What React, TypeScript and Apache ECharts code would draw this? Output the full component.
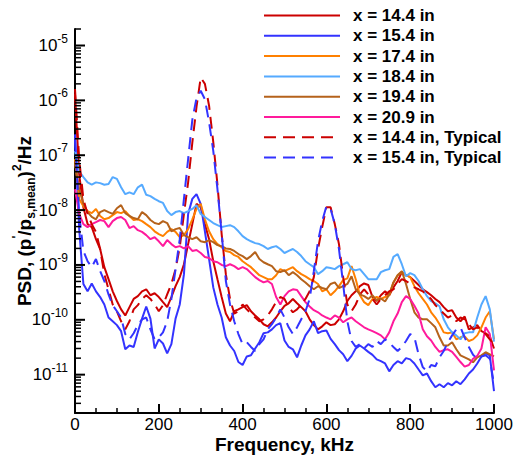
import React, { useEffect, useRef } from "react";
import * as echarts from "echarts";

const FONT = "'Liberation Sans', Arial, Helvetica, sans-serif";

const freq = [
  0, 10, 20, 30, 40, 50, 60, 70, 80, 90,
  100, 110, 120, 130, 140, 150, 160, 170, 180, 190,
  200, 210, 220, 230, 240, 250, 260, 270, 280, 290,
  300, 310, 320, 330, 340, 350, 360, 370, 380, 390,
  400, 410, 420, 430, 440, 450, 460, 470, 480, 490,
  500, 510, 520, 530, 540, 550, 560, 570, 580, 590,
  600, 610, 620, 630, 640, 650, 660, 670, 680, 690,
  700, 710, 720, 730, 740, 750, 760, 770, 780, 790,
  800, 810, 820, 830, 840, 850, 860, 870, 880, 890,
  900, 910, 920, 930, 940, 950, 960, 970, 980, 990,
  1000,
];

const x144 = [
  1.3e-6, 4.5e-8, 1.13e-8, 5.55e-9, 4.9e-9, 2.95e-9, 1.95e-9, 9.1e-10, 5.5e-10, 3.3e-10,
  2.2e-10, 1.55e-10, 1.2e-10, 1.7e-10, 2.4e-10, 2.7e-10, 3.3e-10, 3.6e-10, 2.8e-10, 3.05e-10,
  2.6e-10, 2.1e-10, 1.7e-10, 2.6e-10, 4.1e-10, 6.0e-10, 1.03e-9, 2.4e-9, 5.55e-9, 1.3e-8,
  1.13e-8, 5.55e-9, 2.95e-9, 1.17e-9, 5.5e-10, 2.6e-10, 1.3e-10, 9.4e-11, 1.43e-10, 1.55e-10,
  1.7e-10, 1.85e-10, 1.43e-10, 1.2e-10, 1.02e-10, 8.3e-11, 7.6e-11, 9.0e-11, 1.1e-10, 1.43e-10,
  1.8e-10, 2.0e-10, 2.4e-10, 2.0e-10, 1.7e-10, 1.43e-10, 1.02e-10, 8.0e-11, 6.7e-11, 7.6e-11,
  9.0e-11, 8.0e-11, 8.3e-11, 1.02e-10, 1.43e-10, 2.2e-10, 2.8e-10, 3.3e-10, 4.1e-10, 4.6e-10,
  4.3e-10, 2.6e-10, 2.2e-10, 2.8e-10, 3.3e-10, 2.8e-10, 3.9e-10, 5.1e-10, 7.4e-10, 6.5e-10,
  6.0e-10, 5.1e-10, 4.3e-10, 3.6e-10, 3.2e-10, 2.8e-10, 2.4e-10, 2.1e-10, 1.7e-10, 1.43e-10,
  1.5e-10, 1.1e-10, 9.4e-11, 1.15e-10, 6.7e-11, 7.3e-11, 8.0e-11, 6.2e-11, 5.7e-11, 5.0e-11,
  3.0e-11,
];

const x154 = [
  2.4e-7, 4.5e-9, 4.5e-10, 3.3e-10, 4.6e-10, 3.3e-10, 2.6e-10, 1.9e-10, 1.1e-10, 9.4e-11,
  8.0e-11, 6.2e-11, 2.9e-11, 3.4e-11, 3.2e-11, 6.0e-11, 1.05e-10, 1.75e-10, 1.05e-10, 3.0e-11,
  4.4e-11, 3.7e-11, 2.45e-11, 3.6e-11, 1.05e-10, 1.9e-10, 6.8e-10, 8.5e-9, 1.6e-8, 1.95e-8,
  1.3e-8, 4.1e-9, 1.28e-9, 3.9e-10, 1.9e-10, 1.1e-10, 4.8e-11, 3.4e-11, 2.7e-11, 1.7e-11,
  1.5e-11, 2.15e-11, 2.25e-11, 3.0e-11, 3.9e-11, 5.7e-11, 5.9e-11, 6.7e-11, 8.0e-11, 8.7e-11,
  4.2e-11, 3.2e-11, 2.9e-11, 2.07e-11, 3.4e-11, 5.2e-11, 6.7e-11, 9.4e-11, 5.7e-11, 6.2e-11,
  6.4e-11, 4.5e-11, 3.6e-11, 2.8e-11, 2.35e-11, 1.76e-11, 2.2e-11, 3.0e-11, 3.4e-11, 3.0e-11,
  2.6e-11, 2.3e-11, 1.9e-11, 1.76e-11, 1.6e-11, 1.15e-11, 1.5e-11, 1.76e-11, 1.6e-11, 2.0e-11,
  1.9e-11, 1.6e-11, 1.24e-11, 9.7e-12, 1.05e-11, 7.6e-12, 5.9e-12, 6.7e-12, 5.9e-12, 7.0e-12,
  6.4e-12, 7.6e-12, 6.7e-12, 8.2e-12, 1.05e-11, 1.24e-11, 1.6e-11, 2.15e-11, 2.45e-11, 2.25e-11,
  5.0e-12,
];

const x174 = [
  8.5e-8, 1.6e-8, 1.18e-8, 9.6e-9, 8.8e-9, 1.05e-8, 7.8e-9, 6.8e-9, 7.15e-9, 8.1e-9,
  9.2e-9, 8.8e-9, 9.6e-9, 7.8e-9, 6.6e-9, 6.8e-9, 6.3e-9, 5.55e-9, 4.9e-9, 4.1e-9,
  3.65e-9, 3.35e-9, 4.0e-9, 4.5e-9, 4.0e-9, 3.2e-9, 3.5e-9, 4.5e-9, 6.8e-9, 1.05e-8,
  1.3e-8, 6.8e-9, 4.1e-9, 2.95e-9, 2.4e-9, 2.1e-9, 1.8e-9, 1.72e-9, 1.51e-9, 1.4e-9,
  1.17e-9, 1.03e-9, 9.1e-10, 7.7e-10, 6.5e-10, 6.0e-10, 5.5e-10, 5.5e-10, 6.5e-10, 8.4e-10,
  7.7e-10, 8.4e-10, 9.1e-10, 7.7e-10, 6.8e-10, 6.2e-10, 5.5e-10, 5.1e-10, 4.5e-10, 3.3e-10,
  3.6e-10, 2.8e-10, 3.3e-10, 4.1e-10, 5.3e-10, 5.7e-10, 9.5e-10, 5.5e-10, 2.8e-10, 2.1e-10,
  1.85e-10, 2.4e-10, 2.6e-10, 2.4e-10, 2.6e-10, 2.8e-10, 4.8e-10, 6.5e-10, 7.4e-10, 6.5e-10,
  6.0e-10, 4.1e-10, 3.05e-10, 2.4e-10, 1.9e-10, 1.37e-10, 1.1e-10, 8.3e-11, 5.9e-11, 5.7e-11,
  5.9e-11, 4.4e-11, 4.8e-11, 5.0e-11, 4.1e-11, 4.4e-11, 5.2e-11, 7.3e-11, 1.1e-10, 1.43e-10,
  4.4e-11,
];

const x184 = [
  1.2e-7, 5.1e-8, 4.0e-8, 3.2e-8, 2.9e-8, 3.2e-8, 3.1e-8, 2.9e-8, 3.0e-8, 4.0e-8,
  3.7e-8, 2.6e-8, 1.95e-8, 2.1e-8, 1.95e-8, 2.6e-8, 2.9e-8, 1.9e-8, 1.8e-8, 1.6e-8,
  1.45e-8, 1.35e-8, 9.6e-9, 8.1e-9, 9.2e-9, 9.6e-9, 8.8e-9, 9.6e-9, 1.05e-8, 1.23e-8,
  8.5e-9, 7.5e-9, 6.6e-9, 5.8e-9, 5.3e-9, 4.9e-9, 5.1e-9, 5.3e-9, 4.9e-9, 4.1e-9,
  3.35e-9, 2.95e-9, 2.7e-9, 2.5e-9, 2.4e-9, 2.2e-9, 1.95e-9, 2.1e-9, 2.2e-9, 1.95e-9,
  1.65e-9, 1.8e-9, 1.95e-9, 1.72e-9, 1.45e-9, 1.17e-9, 1.03e-9, 9.1e-10, 6.8e-10, 7.7e-10,
  9.1e-10, 8.8e-10, 8.4e-10, 9.5e-10, 1.03e-9, 1.12e-9, 8.4e-10, 8.0e-10, 8.4e-10, 6.8e-10,
  5.5e-10, 5.5e-10, 5.5e-10, 7.4e-10, 8.0e-10, 8.4e-10, 1.4e-9, 1.58e-9, 1.03e-9, 6.2e-10,
  7.1e-10, 6.5e-10, 5.1e-10, 3.6e-10, 2.7e-10, 2.2e-10, 2.0e-10, 1.77e-10, 1.02e-10, 7.3e-11,
  5.9e-11, 5.2e-11, 4.4e-11, 5.7e-11, 5.9e-11, 5.9e-11, 1.1e-10, 1.9e-10, 2.7e-10, 1.55e-10,
  4.0e-11,
];

const x194 = [
  6.9e-8, 2.4e-8, 1.3e-8, 9.2e-9, 7.5e-9, 6.8e-9, 9.2e-9, 1.0e-8, 9.2e-9, 8.5e-9,
  1.08e-8, 1.23e-8, 8.8e-9, 7.8e-9, 7.15e-9, 6.8e-9, 9.2e-9, 8.1e-9, 6.6e-9, 5.8e-9,
  5.55e-9, 6.3e-9, 5.8e-9, 4.1e-9, 4.5e-9, 4.7e-9, 3.5e-9, 3.2e-9, 2.95e-9, 3.2e-9,
  2.7e-9, 2.6e-9, 2.84e-9, 2.6e-9, 2.3e-9, 2.2e-9, 2.0e-9, 1.95e-9, 1.8e-9, 1.58e-9,
  1.45e-9, 1.28e-9, 1.45e-9, 1.72e-9, 1.28e-9, 1.12e-9, 1.03e-9, 9.5e-10, 7.7e-10, 7.4e-10,
  8.0e-10, 6.5e-10, 7.4e-10, 6.5e-10, 5.5e-10, 4.8e-10, 4.1e-10, 3.6e-10, 4.1e-10, 3.8e-10,
  3.6e-10, 4.5e-10, 4.8e-10, 3.8e-10, 4.1e-10, 4.5e-10, 6.2e-10, 3.6e-10, 2.9e-10, 2.7e-10,
  2.4e-10, 2.8e-10, 2.25e-10, 2.45e-10, 2.15e-10, 2.9e-10, 4.8e-10, 6.5e-10, 7.7e-10, 4.5e-10,
  2.4e-10, 1.37e-10, 1.1e-10, 1.02e-10, 1.02e-10, 8.7e-11, 7.3e-11, 4.8e-11, 3.4e-11, 3.4e-11,
  3.9e-11, 2.9e-11, 2.25e-11, 2.07e-11, 1.9e-11, 1.68e-11, 2.07e-11, 2.25e-11, 2.56e-11, 2.35e-11,
  2.15e-11,
];

const x209 = [
  2.4e-8, 8.5e-9, 5.55e-9, 4.9e-9, 5.55e-9, 6.05e-9, 6.6e-9, 6.3e-9, 4.9e-9, 6.3e-9,
  7.15e-9, 7.5e-9, 6.6e-9, 4.7e-9, 5.1e-9, 4.3e-9, 4.0e-9, 3.5e-9, 2.95e-9, 3.2e-9,
  2.7e-9, 2.2e-9, 2.84e-9, 2.4e-9, 2.1e-9, 2.2e-9, 2.0e-9, 2.2e-9, 1.8e-9, 1.87e-9,
  1.65e-9, 1.4e-9, 1.34e-9, 1.17e-9, 1.12e-9, 1.0e-9, 9.5e-10, 1.03e-9, 9.5e-10, 8.4e-10,
  9.1e-10, 8.4e-10, 7.1e-10, 6.0e-10, 5.3e-10, 4.8e-10, 5.1e-10, 4.5e-10, 2.6e-10, 1.9e-10,
  2.7e-10, 3.3e-10, 3.6e-10, 3.5e-10, 2.7e-10, 2.1e-10, 1.75e-10, 1.5e-10, 1.37e-10, 1.2e-10,
  1.1e-10, 1.02e-10, 1.2e-10, 1.1e-10, 9.0e-11, 1.02e-10, 1.1e-10, 9.4e-11, 8.3e-11, 7.3e-11,
  6.7e-11, 6.2e-11, 5.7e-11, 5.2e-11, 4.4e-11, 5.9e-11, 9.4e-11, 1.3e-10, 2.1e-10, 2.7e-10,
  2.4e-10, 1.8e-10, 1.3e-10, 6.7e-11, 5.0e-11, 4.2e-11, 3.2e-11, 2.6e-11, 2.8e-11, 2.9e-11,
  2.6e-11, 2.1e-11, 1.7e-11, 1.4e-11, 1.5e-11, 1.95e-11, 2.2e-11, 3.0e-11, 7.3e-11, 5.5e-11,
  1.2e-11,
];

const x144Typical = [
  1.6e-6, 8.5e-8, 1.6e-8, 8.5e-9, 5.55e-9, 4.0e-9, 1.95e-9, 6.8e-10, 3.6e-10, 1.9e-10,
  1.43e-10, 9.4e-11, 6.7e-11, 9.4e-11, 1.55e-10, 1.85e-10, 2.4e-10, 2.8e-10, 2.4e-10, 1.9e-10,
  1.43e-10, 1.85e-10, 2.9e-10, 4.5e-10, 8.4e-10, 2.1e-9, 8.5e-9, 3.2e-8, 1.7e-7, 7.6e-7,
  2.6e-6, 2.0e-6, 8.0e-7, 1.74e-7, 2.9e-8, 3.65e-9, 6.8e-10, 2.4e-10, 1.3e-10, 1.43e-10,
  1.9e-10, 1.55e-10, 1.3e-10, 1.1e-10, 9.4e-11, 1.02e-10, 1.2e-10, 1.55e-10, 2.1e-10, 2.6e-10,
  2.4e-10, 1.7e-10, 1.37e-10, 1.55e-10, 1.9e-10, 2.4e-10, 3.3e-10, 6.0e-10, 1.95e-9, 4.9e-9,
  1.13e-8, 1.13e-8, 5.55e-9, 2.4e-9, 6.0e-10, 1.9e-10, 1.43e-10, 1.9e-10, 2.9e-10, 3.6e-10,
  2.9e-10, 2.4e-10, 1.9e-10, 2.4e-10, 2.8e-10, 3.3e-10, 3.6e-10, 4.5e-10, 5.5e-10, 5.1e-10,
  4.5e-10, 3.9e-10, 3.6e-10, 3.3e-10, 2.8e-10, 2.4e-10, 1.85e-10, 1.55e-10, 1.3e-10, 1.1e-10,
  1.2e-10, 9.4e-11, 1.1e-10, 1.02e-10, 8.3e-11, 6.7e-11, 7.3e-11, 6.2e-11, 5.5e-11, 4.4e-11,
  3.6e-11,
];

const x154Typical = [
  1.9e-7, 8.5e-9, 1.8e-9, 1.17e-9, 9.1e-10, 1.28e-9, 7.7e-10, 5.1e-10, 2.9e-10, 1.85e-10,
  1.43e-10, 1.1e-10, 5.5e-11, 4.4e-11, 5.7e-11, 8.0e-11, 1.02e-10, 1.1e-10, 6.7e-11, 4.4e-11,
  4.8e-11, 5.9e-11, 9.4e-11, 2.4e-10, 8.4e-10, 2.95e-9, 1.6e-8, 8.5e-8, 4.4e-7, 1.1e-6,
  1.5e-6, 1.05e-6, 4.0e-7, 1.2e-7, 2.4e-8, 3.8e-9, 5.1e-10, 1.9e-10, 9.4e-11, 5.5e-11,
  3.6e-11, 3.9e-11, 3.2e-11, 2.7e-11, 3.6e-11, 4.4e-11, 6.7e-11, 8.3e-11, 1.1e-10, 1.55e-10,
  1.1e-10, 7.3e-11, 5.5e-11, 7.3e-11, 1.02e-10, 1.43e-10, 2.4e-10, 7.7e-10, 2.7e-9, 6.3e-9,
  1.18e-8, 1.05e-8, 5.55e-9, 1.95e-9, 4.5e-10, 9.4e-11, 4.1e-11, 3.2e-11, 3.6e-11, 3.0e-11,
  3.6e-11, 3.2e-11, 4.1e-11, 3.6e-11, 4.4e-11, 3.8e-11, 3.2e-11, 2.7e-11, 3.2e-11, 4.1e-11,
  5.5e-11, 4.8e-11, 2.35e-11, 1.37e-11, 1.15e-11, 1.5e-11, 1.42e-11, 2.07e-11, 2.7e-11, 3.9e-11,
  5.2e-11, 6.7e-11, 7.3e-11, 4.8e-11, 3.2e-11, 2.3e-11, 1.95e-11, 2.15e-11, 2.25e-11, 1.95e-11,
  6.7e-12,
];

const seriesNames = [
  "x = 14.4 in",
  "x = 15.4 in",
  "x = 17.4 in",
  "x = 18.4 in",
  "x = 19.4 in",
  "x = 20.9 in",
  "x = 14.4 in, Typical",
  "x = 15.4 in, Typical",
];
const seriesValues = [x144, x154, x174, x184, x194, x209, x144Typical, x154Typical];
const seriesColors = ["#cc0000", "#3333ff", "#ff8000", "#55aaff", "#b5621b", "#ff1a9c", "#cc0000", "#3333ff"];
const seriesDashed = [false, false, false, false, false, false, true, true];

const xTickLabels = [0, 200, 400, 600, 800, 1000];
const yMin = 2e-12;
const yMax = 2e-5;
const yMajorTicks = [1e-11, 1e-10, 1e-9, 1e-8, 1e-7, 1e-6, 1e-5];
const yDecades = [1e-12, 1e-11, 1e-10, 1e-9, 1e-8, 1e-7, 1e-6, 1e-5];
const yMinorMultipliers = [2, 3, 4, 5, 6, 7, 8, 9];

export default function App() {
  const ref = useRef<HTMLDivElement>(null);

  useEffect(() => {
    document.body.style.margin = "0";
    if (!ref.current) return;
    const chart = echarts.init(ref.current, undefined, { renderer: "svg" });

    const tickData: number[][] = [];
    yMajorTicks.forEach((v) => tickData.push([0, v, 10]));
    yDecades.forEach((d) =>
      yMinorMultipliers.forEach((m) => {
        const v = d * m;
        if (v >= yMin && v <= yMax * 1.0001) tickData.push([0, v, 6]);
      })
    );

    const lineSeries = seriesNames.map((name, i) => ({
      name,
      type: "line",
      data: freq.map((f, k) => [f, seriesValues[i][k]]),
      symbol: "none",
      showSymbol: false,
      color: seriesColors[i],
      lineStyle: {
        color: seriesColors[i],
        width: 2,
        type: seriesDashed[i] ? [12, 7] : "solid",
      },
      z: 3,
    }));

    const option: any = {
      animation: false,
      backgroundColor: "#ffffff",
      textStyle: { fontFamily: FONT },
      grid: {
        left: 75,
        top: 29,
        right: 24,
        bottom: 45,
        outerBoundsMode: "none",
      },
      legend: {
        orient: "vertical",
        left: 263,
        top: 7,
        padding: 0,
        itemWidth: 76,
        itemHeight: 14,
        itemGap: 3.3,
        selectedMode: false,
        data: seriesNames,
        itemStyle: { opacity: 0 },
        textStyle: {
          fontSize: 17,
          fontWeight: "bold",
          color: "#000",
          fontFamily: FONT,
          padding: [0, 0, 0, 8],
        },
      },
      xAxis: {
        type: "value",
        min: 0,
        max: 1000,
        interval: 200,
        name: "Frequency, kHz",
        nameLocation: "middle",
        nameGap: 22,
        nameMoveOverlap: false,
        nameTextStyle: { fontSize: 19, fontWeight: "bold", color: "#000", fontFamily: FONT },
        axisLine: { show: true, onZero: false, lineStyle: { color: "#000", width: 2 } },
        axisTick: { show: true, inside: true, length: 9, lineStyle: { color: "#000", width: 2 } },
        minorTick: { show: true, splitNumber: 4, length: 5, lineStyle: { color: "#000", width: 1.5 } },
        splitLine: { show: false },
        minorSplitLine: { show: false },
        axisLabel: {
          fontSize: 17,
          color: "#000",
          margin: 3,
          fontFamily: FONT,
          formatter: (v: number) => (xTickLabels.includes(v) ? String(v) : ""),
        },
      },
      yAxis: {
        type: "log",
        logBase: 10,
        min: yMin,
        max: yMax,
        name: "{n|PSD, (p}{sup|'}{n|/p}{sub|s,mean}{n|)}{sup|2}{n|/Hz}",
        nameLocation: "middle",
        nameRotate: 90,
        nameGap: 38,
        nameMoveOverlap: false,
        nameTextStyle: {
          color: "#000",
          fontFamily: FONT,
          rich: {
            n: { fontSize: 19, fontWeight: "bold", color: "#000", fontFamily: FONT, lineHeight: 26 },
            sup: { fontSize: 12, fontWeight: "bold", color: "#000", fontFamily: FONT, lineHeight: 12, verticalAlign: "top" },
            sub: { fontSize: 12, fontWeight: "bold", color: "#000", fontFamily: FONT, lineHeight: 12, verticalAlign: "bottom" },
          },
        },
        axisLine: { show: true, onZero: false, lineStyle: { color: "#000", width: 2 } },
        axisTick: { show: false },
        splitLine: { show: false },
        axisLabel: {
          showMinLabel: false,
          showMaxLabel: false,
          margin: 7,
          formatter: (v: number) => `{b|10}{s|${Math.round(Math.log10(v))}}`,
          rich: {
            b: { fontSize: 17, lineHeight: 26, color: "#000", fontFamily: FONT },
            s: { fontSize: 12, lineHeight: 12, color: "#000", fontFamily: FONT, verticalAlign: "top" },
          },
        },
      },
      series: [
        ...lineSeries,
        {
          type: "custom",
          name: "yTicks",
          data: tickData,
          silent: true,
          clip: false,
          z: 5,
          renderItem: (_params: any, api: any) => {
            const p = api.coord([0, api.value(1)]);
            const len = api.value(2);
            return {
              type: "line",
              shape: { x1: p[0], y1: p[1], x2: p[0] + len, y2: p[1] },
              style: { stroke: "#000", lineWidth: len > 8 ? 2 : 1.5 },
            };
          },
        },
      ],
    };

    chart.setOption(option);
    return () => chart.dispose();
  }, []);

  return <div ref={ref} style={{ width: 518, height: 458 }} />;
}
